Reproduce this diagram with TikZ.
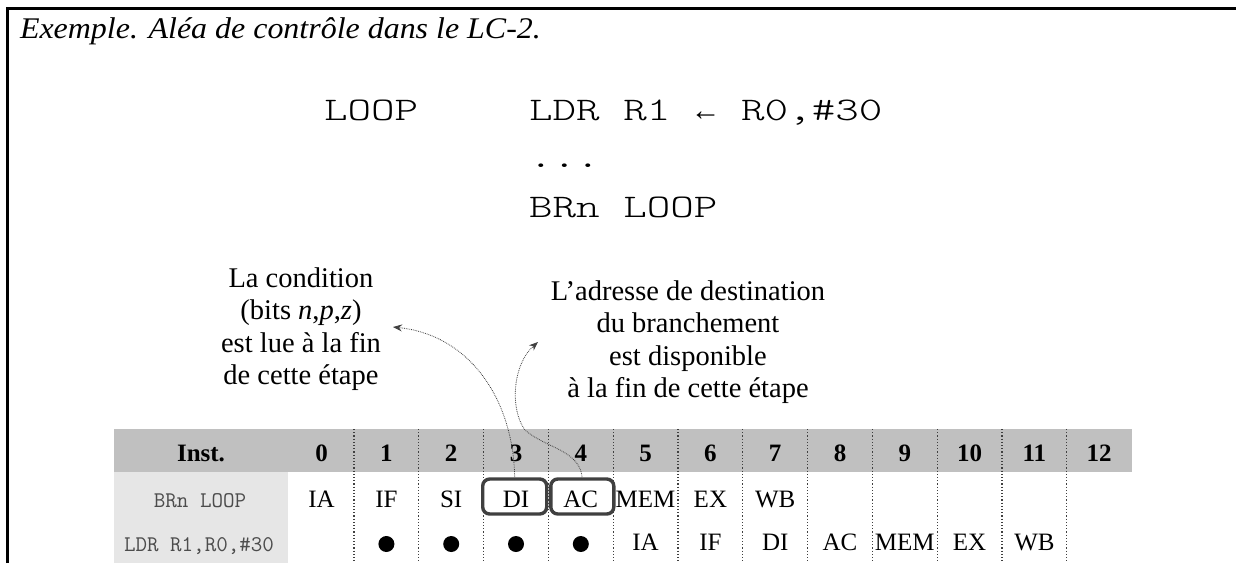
\documentclass[tikz,border=0pt]{standalone}
\usepackage{fontspec}
\setmainfont{Liberation Serif}
\newfontfamily\titlefont[FakeStretch=1.065]{Liberation Serif}
\newfontfamily\codefont[FakeStretch=1.36]{Latin Modern Mono Light}
\newfontfamily\cellmono{Latin Modern Mono}
\newfontfamily\arrowfont{Liberation Mono}
\usetikzlibrary{arrows.meta}
\definecolor{hdrgray}{HTML}{C0C0C0}
\definecolor{labgray}{HTML}{E6E6E6}
\definecolor{boxgray}{HTML}{404040}
\begin{document}
\begin{tikzpicture}[x=1pt,y=-1pt,
  every node/.style={inner sep=0pt, outer sep=0pt},
  code/.style={anchor=base west, font=\codefont\fontsize{33}{36}\selectfont},
  annot/.style={align=center, font=\fontsize{28.5}{32.5}\selectfont},
  hdr/.style={anchor=base, font=\bfseries\fontsize{25}{30}\selectfont},
  stage/.style={anchor=base, font=\fontsize{25}{30}\selectfont},
  rowlab/.style={anchor=base, font=\cellmono\fontsize{22.4}{25}\selectfont, text=black!70},
  vsep/.style={line width=1.3pt, black!75, dash pattern=on 1.2pt off 2pt},
  hbox/.style={draw=boxgray, line width=3.4pt, rounded corners=7pt, fill=white, minimum height=35pt},
  conn/.style={densely dotted, line width=0.8pt, black!75, -{Stealth[length=9pt,width=7pt]}},
  bullet/.style={circle, fill=black, minimum size=16pt}
]
\useasboundingbox (0,0) rectangle (1236,563);
% frame
\draw[line width=2.5pt] (7.5,563) -- (7.5,8.5) -- (1236,8.5);
% title
\node[anchor=base west, font=\titlefont\itshape\fontsize{30}{34}\selectfont] (title) at (20,38) {Exemple. Aléa de contrôle dans le LC-2.};
% code
\node[code] (loop) at (324,120) {LOOP};
\node[code] (ldr) at (529,120) {LDR R1 \makebox[0.714em]{\arrowfont\fontsize{30}{34}\selectfont ←} R0,\#30};
\node[code] (dots) at (529,167) {...};
\node[code] (brn) at (529,217) {BRn LOOP};
% annotations
\node[annot] (cond) at (301,329) {La condition\\(bits \textit{n},\textit{p},\textit{z})\\est lue à la fin\\de cette étape};
\node[annot] (dest) at (688,342) {L’adresse de destination\\du branchement\\est disponible\\à la fin de cette étape};
% table backgrounds
\fill[hdrgray] (114,429) rectangle (1132.4,472);
\fill[labgray] (114,472) rectangle (288,563);
% separators
\foreach \k in {0,...,11}
  \draw[vsep] ({354+64.8*\k},429) -- ({354+64.8*\k},563);
% header
\node[hdr] (hinst) at (201,461) {Inst.};
\foreach \k in {0,...,12}
  \node[hdr] (h\k) at ({321.6+64.8*\k},461) {\k};
% row labels
\node[rowlab] (lab1) at (200,507) {BRn LOOP};
\node[rowlab] (lab2) at (199,551) {LDR R1,R0,\#30};
% highlight boxes
\node[hbox, minimum width=64pt] (boxdi) at (514.7,496.5) {};
\node[hbox, minimum width=63pt] (boxac) at (582.3,496.5) {};
% row 1 stages
\foreach \k/\s in {0/IA,1/IF,2/SI,3/DI,4/AC,5/MEM,6/EX,7/WB}
  \node[stage] (a\k) at ({321.6+64.8*\k},507) {\s};
% row 2 stages
\foreach \k in {1,...,4}
  \node[bullet] (b\k) at ({321.6+64.8*\k},544) {};
\foreach \k/\s in {5/IA,6/IF,7/DI,8/AC,9/MEM,10/EX,11/WB}
  \node[stage] (b\k) at ({321.6+64.8*\k},550) {\s};
% connectors
\coordinate (tipA) at (393,327);
\coordinate (tipB) at (538,342);
\draw[conn] (boxdi.north) .. controls (514,400) and (470,335) .. (tipA);
\draw[conn] (boxac.north) .. controls (581,450) and (545,448) .. (525,430) .. controls (510,410) and (512,365) .. (tipB);
\end{tikzpicture}
\end{document}
